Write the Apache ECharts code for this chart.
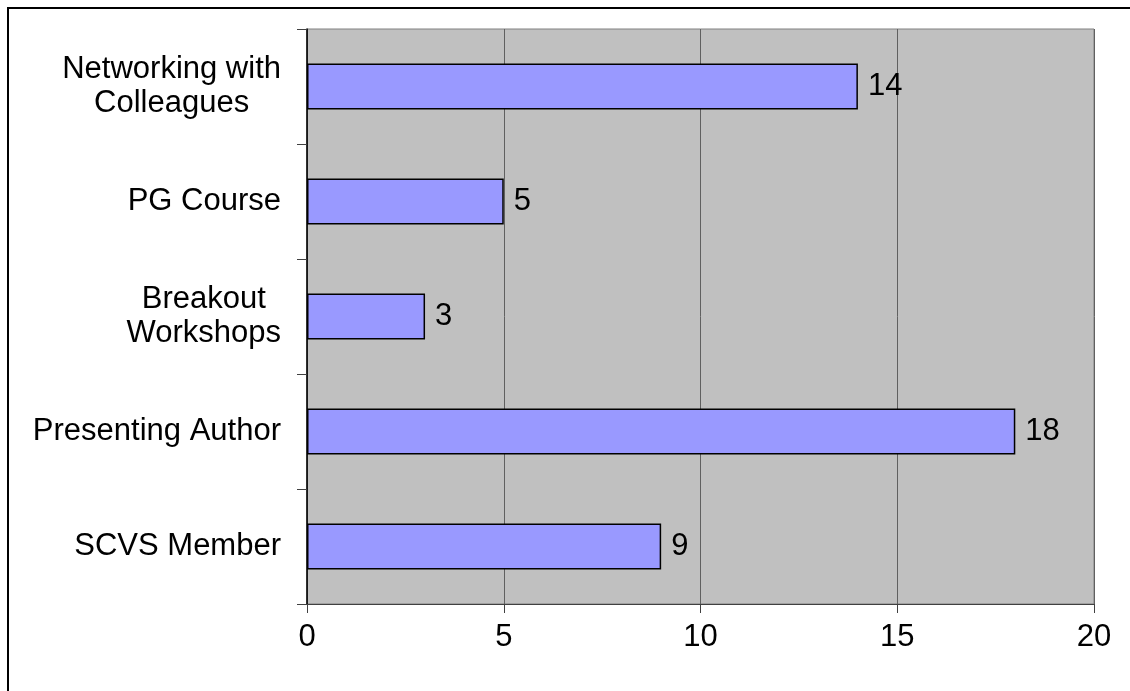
<!DOCTYPE html>
<html>
<head>
<meta charset="utf-8">
<script src="https://cdn.jsdelivr.net/npm/echarts@6/dist/echarts.min.js"></script>
<style>html,body{margin:0;padding:0;background:#fff;}#c{width:1130px;height:691px;}</style>
</head>
<body>
<div id="c"></div>
<script>
// top-to-bottom order
const categories = ['Networking with\nColleagues', 'PG Course', 'Breakout\nWorkshops', 'Presenting Author', 'SCVS Member'];
const values = [14, 5, 3, 18, 9];
const xTicks = [0, 5, 10, 15, 20];

const chart = echarts.init(document.getElementById('c'), null, {renderer: 'canvas'});
const FONT = 'Liberation Sans, Arial, sans-serif';
const FS = 31;
chart.setOption({
  animation: false,
  backgroundColor: '#ffffff',
  graphic: [{
    type: 'rect', shape: {x: 8, y: 8, width: 1200, height: 800},
    style: {fill: 'none', stroke: '#000', lineWidth: 2}, z: 100, silent: true
  }],
  grid: {
    left: 307, right: 36, top: 29, bottom: 87,
    show: true, backgroundColor: '#C0C0C0', borderColor: '#808080', borderWidth: 1
  },
  xAxis: {
    type: 'value', min: xTicks[0], max: xTicks[xTicks.length - 1], interval: 5,
    axisLine: {show: true, lineStyle: {color: '#404040', width: 1}},
    axisTick: {show: true, length: 9, lineStyle: {color: '#404040', width: 1}},
    splitLine: {show: true, lineStyle: {color: '#606060', width: 1}},
    axisLabel: {color: '#000', fontSize: FS, fontFamily: FONT, margin: 18}
  },
  yAxis: {
    type: 'category', data: categories, inverse: true,
    axisLine: {show: true, lineStyle: {color: '#000', width: 1.5}},
    axisTick: {show: true, length: 10, alignWithLabel: false, lineStyle: {color: '#404040'}},
    splitLine: {show: false},
    axisLabel: {
      color: '#000', fontSize: FS, fontFamily: FONT, margin: 26, lineHeight: 34,
      formatter: function (v) {
        return v.split('\n').map(function (s) { return '{c|' + s + '}'; }).join('\n');
      },
      rich: {c: {align: 'center', fontSize: FS, fontFamily: FONT, lineHeight: 34, color: '#000'}}
    }
  },
  series: [{
    type: 'bar', data: values, barWidth: '40%',
    itemStyle: {color: '#9999FF', borderColor: '#000', borderWidth: 1.5},
    label: {show: true, position: 'right', distance: 10, color: '#000', fontSize: FS, fontFamily: FONT}
  }]
});
</script>
</body>
</html>
